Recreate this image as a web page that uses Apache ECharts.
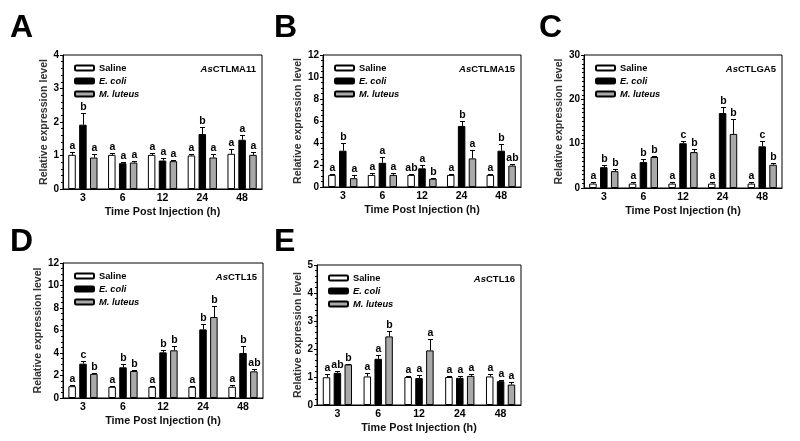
<!DOCTYPE html>
<html><head><meta charset="utf-8">
<script src="https://cdn.jsdelivr.net/npm/echarts@6/dist/echarts.min.js"></script>
<style>html,body{margin:0;padding:0;background:#fff}#c{width:800px;height:441px}</style>
</head><body><div id="c"></div>
<script>
// ---------- DATA ----------
const categories = ['3', '6', '12', '24', '48'];
const groupNames = ['Saline', 'E. coli', 'M. luteus'];
const yTicksA = [0, 1, 2, 3, 4];
const yTicksB = [0, 2, 4, 6, 8, 10, 12];
const yTicksC = [0, 10, 20, 30];
const yTicksD = [0, 2, 4, 6, 8, 10, 12];
const yTicksE = [0, 1, 2, 3, 4, 5];

// A  AsCTLMA11
const aSaline = [1.02, 1.02, 1.02, 1.00, 1.05];
const aEcoli  = [1.92, 0.77, 0.85, 1.64, 1.47];
const aMlut   = [0.94, 0.79, 0.83, 0.94, 1.02];
const aSalineErr = [0.08, 0.05, 0.05, 0.05, 0.15];
const aEcoliErr  = [0.35, 0.05, 0.08, 0.22, 0.15];
const aMlutErr   = [0.10, 0.04, 0.04, 0.10, 0.08];
const aSalineLet = ['a', 'a', 'a', 'a', 'a'];
const aEcoliLet  = ['b', 'a', 'a', 'b', 'a'];
const aMlutLet   = ['a', 'a', 'a', 'a', 'a'];

// B  AsCTLMA15
const bSaline = [1.1, 1.1, 1.1, 1.1, 1.1];
const bEcoli  = [3.3, 2.2, 1.7, 5.55, 3.3];
const bMlut   = [0.8, 1.1, 0.75, 2.6, 1.95];
const bSalineErr = [0.1, 0.15, 0.1, 0.1, 0.1];
const bEcoliErr  = [0.7, 0.5, 0.3, 0.45, 0.6];
const bMlutErr   = [0.3, 0.2, 0.1, 0.8, 0.1];
const bSalineLet = ['a', 'a', 'ab', 'a', 'a'];
const bEcoliLet  = ['b', 'a', 'a', 'b', 'b'];
const bMlutLet   = ['a', 'a', 'b', 'a', 'ab'];

// C  AsCTLGA5
const cSaline = [1.0, 1.0, 1.0, 1.0, 1.0];
const cEcoli  = [4.7, 5.85, 10.1, 16.9, 9.4];
const cMlut   = [3.8, 7.0, 8.1, 12.2, 5.25];
const cSalineErr = [0.3, 0.3, 0.3, 0.3, 0.3];
const cEcoliErr  = [0.4, 0.6, 0.5, 1.3, 1.2];
const cMlutErr   = [0.4, 0.3, 0.8, 3.3, 0.4];
const cSalineLet = ['a', 'a', 'a', 'a', 'a'];
const cEcoliLet  = ['b', 'b', 'c', 'b', 'c'];
const cMlutLet   = ['b', 'b', 'b', 'b', 'b'];

// D  AsCTL15
const dSaline = [1.05, 1.0, 1.0, 1.0, 1.0];
const dEcoli  = [3.05, 2.73, 4.06, 6.1, 4.0];
const dMlut   = [2.15, 2.4, 4.24, 7.2, 2.37];
const dSalineErr = [0.1, 0.1, 0.1, 0.1, 0.2];
const dEcoliErr  = [0.25, 0.25, 0.2, 0.45, 0.6];
const dMlutErr   = [0.1, 0.1, 0.4, 1.0, 0.25];
const dSalineLet = ['a', 'a', 'a', 'a', 'a'];
const dEcoliLet  = ['c', 'b', 'b', 'b', 'b'];
const dMlutLet   = ['b', 'b', 'b', 'b', 'ab'];

// E  AsCTL16
const eSaline = [0.99, 1.02, 1.0, 1.0, 1.02];
const eEcoli  = [1.15, 1.65, 0.96, 0.97, 0.85];
const eMlut   = [1.45, 2.45, 1.95, 1.04, 0.73];
const eSalineErr = [0.1, 0.12, 0.05, 0.05, 0.1];
const eEcoliErr  = [0.05, 0.15, 0.12, 0.08, 0.05];
const eMlutErr   = [0.03, 0.2, 0.4, 0.06, 0.08];
const eSalineLet = ['a', 'a', 'a', 'a', 'a'];
const eEcoliLet  = ['ab', 'a', 'a', 'a', 'a'];
const eMlutLet   = ['b', 'b', 'a', 'a', 'a'];

// ---------- PANELS ----------
const panels = [
  {tag: 'A', gene: 'CTLMA11', ticks: yTicksA, minor: 5, vals: [aSaline, aEcoli, aMlut], errs: [aSalineErr, aEcoliErr, aMlutErr], lets: [aSalineLet, aEcoliLet, aMlutLet]},
  {tag: 'B', gene: 'CTLMA15', ticks: yTicksB, minor: 4, vals: [bSaline, bEcoli, bMlut], errs: [bSalineErr, bEcoliErr, bMlutErr], lets: [bSalineLet, bEcoliLet, bMlutLet]},
  {tag: 'C', gene: 'CTLGA5',  ticks: yTicksC, minor: 10, vals: [cSaline, cEcoli, cMlut], errs: [cSalineErr, cEcoliErr, cMlutErr], lets: [cSalineLet, cEcoliLet, cMlutLet]},
  {tag: 'D', gene: 'CTL15',   ticks: yTicksD, minor: 4, vals: [dSaline, dEcoli, dMlut], errs: [dSalineErr, dEcoliErr, dMlutErr], lets: [dSalineLet, dEcoliLet, dMlutLet]},
  {tag: 'E', gene: 'CTL16',   ticks: yTicksE, minor: 5, vals: [eSaline, eEcoli, eMlut], errs: [eSalineErr, eEcoliErr, eMlutErr], lets: [eSalineLet, eEcoliLet, eMlutLet]}
];

// ---------- LAYOUT / STYLE ----------
const layout = [
  {left: 63,  top: 55,  width: 199, height: 134, tagLeft: 10,  tagTop: 12},
  {left: 323, top: 55,  width: 198, height: 132, tagLeft: 274, tagTop: 12},
  {left: 584, top: 55,  width: 198, height: 133, tagLeft: 539, tagTop: 12},
  {left: 63,  top: 263, width: 200, height: 135, tagLeft: 10,  tagTop: 226},
  {left: 317, top: 265, width: 204, height: 140, tagLeft: 274, tagTop: 226}
];
const FF = '"Liberation Sans", Arial, sans-serif';
const fills = ['#ffffff', '#000000', '#a9a9a9'];
const BW = 7.5, GAP = '45%', STEP = 7.5 * 1.45;

const grid = [], xAxis = [], yAxis = [], series = [], legend = [], title = [];
panels.forEach((p, i) => {
  const L = layout[i];
  grid.push({left: L.left, top: L.top, width: L.width, height: L.height, show: true,
    borderColor: '#000', borderWidth: 1, backgroundColor: 'transparent'});
  xAxis.push({type: 'category', gridIndex: i, data: categories,
    axisLine: {lineStyle: {color: '#000', width: 1}},
    axisTick: {alignWithLabel: true, length: 3, lineStyle: {color: '#000'}},
    axisLabel: {color: '#000', fontFamily: FF, fontWeight: 'bold', fontSize: 10.5, margin: 4},
    name: 'Time Post Injection (h)', nameLocation: 'middle', nameGap: 18,
    nameTextStyle: {color: '#111', fontFamily: FF, fontWeight: 'bold', fontSize: 10.8}});
  const t = p.ticks;
  yAxis.push({type: 'value', gridIndex: i, min: t[0], max: t[t.length - 1], interval: t[1] - t[0],
    axisLine: {show: true, lineStyle: {color: '#000', width: 1}},
    axisTick: {show: true, length: 3, lineStyle: {color: '#000'}},
    minorTick: {show: true, splitNumber: p.minor, length: 2, lineStyle: {color: '#000'}},
    splitLine: {show: false},
    axisLabel: {color: '#000', fontFamily: FF, fontWeight: 'bold', fontSize: 10, margin: 4},
    name: 'Relative expression level', nameLocation: 'middle', nameGap: 10,
    nameTextStyle: {color: '#333', fontFamily: FF, fontWeight: 'bold', fontSize: 10.6}});
  p.vals.forEach((v, g) => {
    series.push({type: 'bar', name: groupNames[g], xAxisIndex: i, yAxisIndex: i, data: v,
      barWidth: BW, barGap: GAP, silent: true, animation: false,
      itemStyle: {color: fills[g], borderColor: '#000', borderWidth: 1}});
  });
  p.vals.forEach((v, g) => {
    const errs = p.errs[g], lets = p.lets[g];
    series.push({type: 'custom', xAxisIndex: i, yAxisIndex: i, silent: true, animation: false, z: 5,
      data: categories.map((c, j) => [j, v[j], errs[j]]),
      renderItem: function (params, api) {
        const j = api.value(0), m = api.value(1), e = api.value(2);
        const b = api.coord([j, m]), tp = api.coord([j, m + e]);
        const x = Math.round(b[0] + (g - 1) * STEP) + 0.5;
        const ty = Math.round(tp[1]) + 0.5;
        return {type: 'group', children: [
          {type: 'line', shape: {x1: x, y1: b[1], x2: x, y2: ty}, style: {stroke: '#000', lineWidth: 1}},
          {type: 'line', shape: {x1: x - 2.5, y1: ty, x2: x + 2.5, y2: ty}, style: {stroke: '#000', lineWidth: 1}},
          {type: 'text', x: x, y: ty - 1, style: {text: lets[j], fill: '#000', font: 'bold 10.5px ' + FF,
            textAlign: 'center', textVerticalAlign: 'bottom'}}
        ]};
      }});
  });
  legend.push({orient: 'vertical', left: L.left + 11, top: L.top + 8, padding: 0,
    itemWidth: 19, itemHeight: 5, itemGap: 3, selectedMode: false, data: groupNames,
    formatter: n => n === 'Saline' ? n : '{it|' + n + '}',
    textStyle: {color: '#000', fontFamily: FF, fontWeight: 'bold', fontSize: 9.3, lineHeight: 10,
      rich: {it: {fontStyle: 'italic', fontWeight: 'bold', fontSize: 9.3, fontFamily: FF, color: '#000'}}}});
  title.push({text: '{i|As}{n|' + p.gene + '}', right: 800 - (L.left + L.width) + 6, top: L.top + 9, padding: 0,
    textStyle: {rich: {i: {fontStyle: 'italic', fontWeight: 'bold', fontSize: 9.5, fontFamily: FF, color: '#000'},
      n: {fontWeight: 'bold', fontSize: 9.5, fontFamily: FF, color: '#000'}}}});
  title.push({text: p.tag, left: L.tagLeft, top: L.tagTop, padding: 0,
    textStyle: {fontSize: 32, fontWeight: 'bold', fontFamily: FF, color: '#000'}});
});

const chart = echarts.init(document.getElementById('c'), null, {renderer: 'canvas'});
chart.setOption({animation: false, backgroundColor: '#fff', title, legend, grid, xAxis, yAxis, series});
</script></body></html>
